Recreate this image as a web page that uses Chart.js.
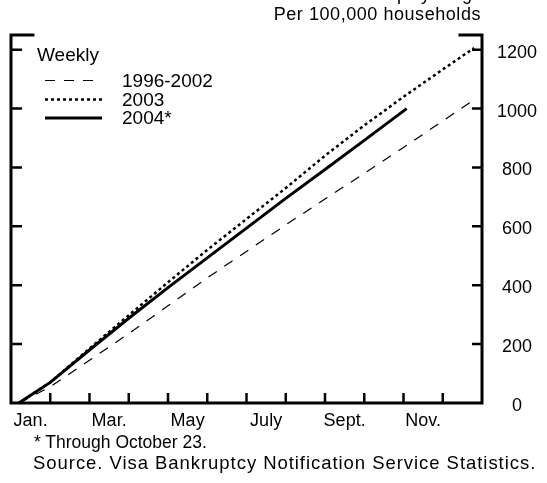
<!DOCTYPE html>
<html>
<head>
<meta charset="utf-8">
<script src="https://cdn.jsdelivr.net/npm/chart.js@4.4.1/dist/chart.umd.min.js"></script>
<style>
  body { margin: 0; background: #fff; }
  #wrap { position: relative; width: 547px; height: 483px; overflow: hidden;
          font-family: "Liberation Sans", Arial, sans-serif; color: #000; }
  #c { position: absolute; left: 0; top: 0; }
  .t { position: absolute; font-size: 18px; line-height: 20px; white-space: nowrap; }
</style>
</head>
<body>
<div id="wrap">
  <canvas id="c" width="547" height="483"></canvas>
  <div class="t" style="right:66px;top:-16px">Cumulative bankruptcy filings</div>
  <div class="t" style="right:66px;top:4px;letter-spacing:0.55px">Per 100,000 households</div>
  <div class="t" style="left:34px;top:432px;font-size:17.5px">* Through October 23.</div>
  <div class="t" style="left:33px;top:453px;font-size:18.5px;letter-spacing:0.95px">Source. Visa Bankruptcy Notification Service Statistics.</div>
</div>
<script>
// months since Jan. 1 (x) and cumulative filings per 100,000 households (y)
const monthPos = [0.2, 1, 2, 3, 4, 5, 6, 7, 8, 9, 10, 11, 11.8];
const filings9602 = [0, 55, 145, 236, 330, 425, 515, 605, 693, 780, 868, 958, 1030];
const filings2003 = [0, 70, 185, 298, 410, 520, 625, 730, 840, 943, 1040, 1133, 1206];
const monthPos2004 = [0.2, 1, 2, 3, 4, 5, 6, 7, 8, 9, 10.08];
const filings2004 = [0, 70, 180, 288, 392, 493, 594, 695, 793, 892, 1000];

const xLabelPos = [0.5, 2.5, 4.5, 6.5, 8.5, 10.5];
const xLabels = ['Jan.', 'Mar.', 'May', 'July', 'Sept.', 'Nov.'];
const monthTicks = [1, 2, 3, 4, 5, 6, 7, 8, 9, 10, 11];
const yTicks = [0, 200, 400, 600, 800, 1000, 1200];

const FONT = '"Liberation Sans", Arial, sans-serif';

function pts(xs, ys) {
  return xs.map((x, i) => ({ x: x, y: ys[i] }));
}

// frame, inward ticks and the legend box
const framePlugin = {
  id: 'frame',
  afterDatasetsDraw(chart) {
    const { ctx, chartArea: a } = chart;
    const xs = chart.scales.x, ys = chart.scales.y;
    ctx.save();
    ctx.strokeStyle = '#000';
    ctx.lineWidth = 3;
    ctx.lineCap = 'square';
    ctx.beginPath();
    ctx.moveTo(a.left + 22, a.top);
    ctx.lineTo(a.left, a.top);
    ctx.lineTo(a.left, a.bottom);
    ctx.lineTo(a.right, a.bottom);
    ctx.lineTo(a.right, a.top);
    ctx.lineTo(a.right - 22, a.top);
    ctx.stroke();
    ctx.lineCap = 'butt';
    ctx.lineWidth = 2.5;
    ctx.beginPath();
    yTicks.slice(1).forEach(v => {
      const py = ys.getPixelForValue(v);
      ctx.moveTo(a.left, py); ctx.lineTo(a.left + 11, py);
      ctx.moveTo(a.right, py); ctx.lineTo(a.right - 10, py);
    });
    monthTicks.forEach(m => {
      const px = xs.getPixelForValue(m);
      ctx.moveTo(px, a.bottom); ctx.lineTo(px, a.bottom - 10);
    });
    ctx.stroke();

    // legend
    ctx.fillStyle = '#000';
    ctx.font = '19px ' + FONT;
    ctx.textBaseline = 'alphabetic';
    ctx.fillText('Weekly', 37, 61);
    const rowY = [80.5, 99.5, 118];
    ctx.textBaseline = 'middle';
    chart.data.datasets.forEach((ds, i) => {
      ctx.lineWidth = ds.borderWidth;
      ctx.setLineDash(ds.borderDash || []);
      ctx.beginPath();
      ctx.moveTo(45, rowY[i]);
      ctx.lineTo(102, rowY[i]);
      ctx.stroke();
      ctx.setLineDash([]);
      ctx.fillText(ds.label, 122, rowY[i] + 1);
    });
    ctx.restore();
  }
};

new Chart(document.getElementById('c'), {
  type: 'line',
  data: {
    datasets: [
      { label: '1996-2002', data: pts(monthPos, filings9602),
        borderColor: '#000', borderWidth: 1.2, borderDash: [10, 9] },
      { label: '2003', data: pts(monthPos, filings2003),
        borderColor: '#000', borderWidth: 2.5, borderDash: [3, 3] },
      { label: '2004*', data: pts(monthPos2004, filings2004),
        borderColor: '#000', borderWidth: 3 }
    ]
  },
  options: {
    responsive: false,
    animation: false,
    layout: { padding: { left: 11, top: 35, right: 0, bottom: 0 } },
    elements: { point: { radius: 0 }, line: { tension: 0 } },
    plugins: { legend: { display: false }, tooltip: { enabled: false } },
    scales: {
      x: {
        type: 'linear', min: 0, max: 12,
        grid: { display: false, drawTicks: false },
        border: { display: false },
        afterBuildTicks(s) { s.ticks = xLabelPos.map(v => ({ value: v })); },
        afterFit(s) { s.height = 80; },
        ticks: {
          color: '#000', font: { family: FONT, size: 18 }, padding: 7,
          maxRotation: 0, autoSkip: false,
          callback: (v) => xLabels[xLabelPos.indexOf(v)]
        }
      },
      y: {
        position: 'right', min: 0, max: 1250,
        grid: { display: false, drawTicks: false },
        border: { display: false },
        afterBuildTicks(s) { s.ticks = yTicks.map(v => ({ value: v })); },
        afterFit(s) { s.width = 65; },
        ticks: {
          color: '#000', font: { family: FONT, size: 18 }, padding: 15,
          crossAlign: 'center', labelOffset: 3,
          callback: (v) => String(v)
        }
      }
    }
  },
  plugins: [framePlugin]
});
</script>
</body>
</html>
